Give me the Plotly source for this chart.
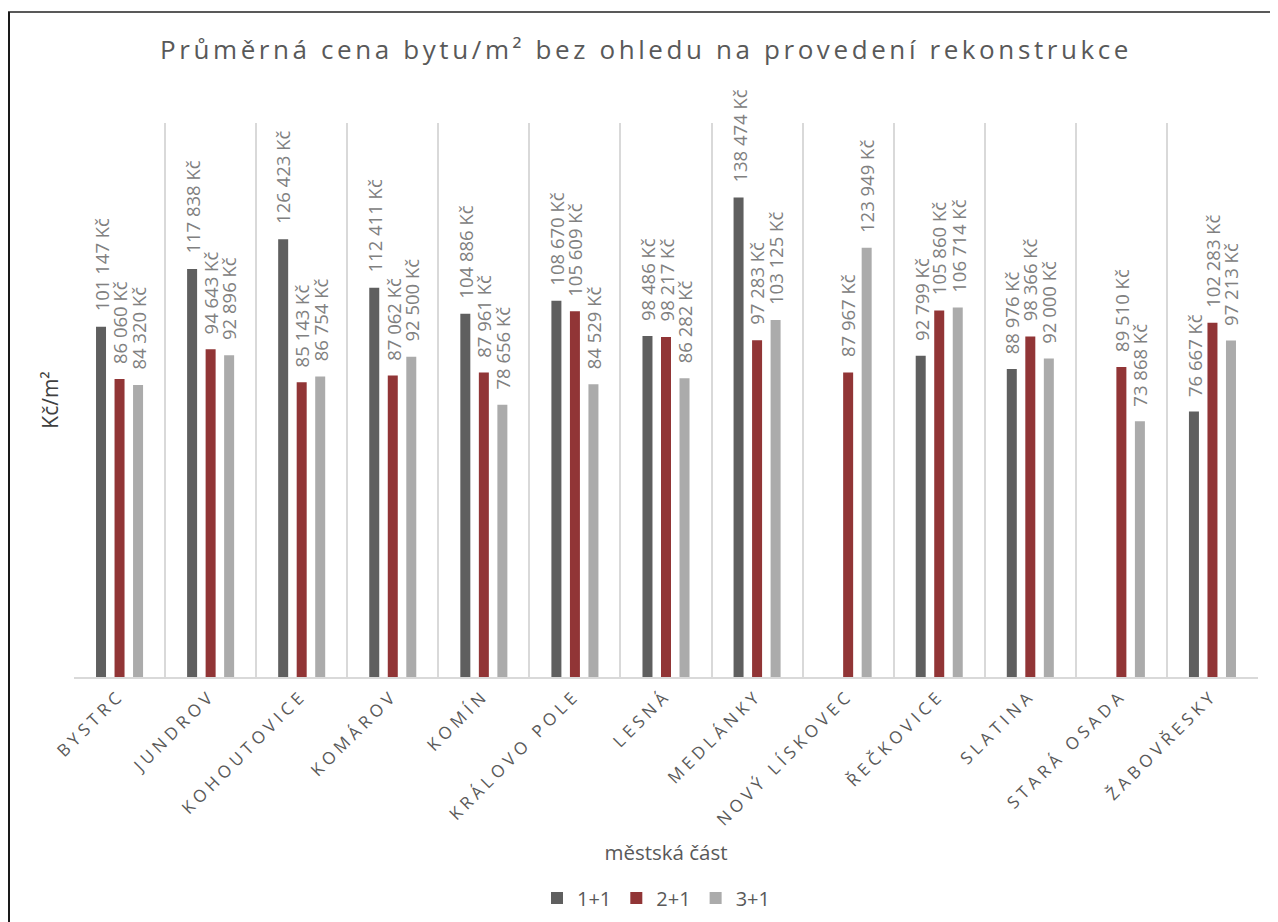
import plotly.graph_objects as go

categories = ["BYSTRC", "JUNDROV", "KOHOUTOVICE", "KOMÁROV", "KOMÍN", "KRÁLOVO POLE",
              "LESNÁ", "MEDLÁNKY", "NOVÝ LÍSKOVEC", "ŘEČKOVICE", "SLATINA",
              "STARÁ OSADA", "ŽABOVŘESKY"]
series_names = ["1+1", "2+1", "3+1"]
vals_1_1 = [101147, 117838, 126423, 112411, 104886, 108670, 98486, 138474, None, 92799, 88976, None, 76667]
vals_2_1 = [86060, 94643, 85143, 87062, 87961, 105609, 98217, 97283, 87967, 105860, 98366, 89510, 102283]
vals_3_1 = [84320, 92896, 86754, 92500, 78656, 84529, 86282, 103125, 123949, 106714, 92000, 73868, 97213]
series_values = [vals_1_1, vals_2_1, vals_3_1]
colors = ["#5f5f5f", "#913536", "#ababab"]

# page body adds an 8px offset; work in reference pixel coordinates minus 8
OFF = 8
W, H = 1278, 922
ML, MT = 74 - OFF, 123 - OFF
PW, PH = 1184, 554
MR, MB = W - ML - PW, H - MT - PH
bargap = 0.39
slot = (1 - bargap) / 3

def fmt(v):
    return "{:,}".format(v).replace(",", " ") + " Kč"

def py(px):  # reference pixel y -> paper y
    return (MT + PH - (px - OFF)) / PH

def px_(p):  # reference pixel x -> paper x
    return ((p - OFF) - ML) / PW

fig = go.Figure()
for name, vals, col in zip(series_names, series_values, colors):
    fig.add_trace(go.Bar(x=categories, y=vals, name=name, marker_color=col,
                         marker_line_width=0))

annotations = []
for k, vals in enumerate(series_values):
    for i, v in enumerate(vals):
        if v is None:
            continue
        annotations.append(dict(
            x=i + (k - 1) * slot, y=v, xref="x", yref="y", text=fmt(v),
            textangle=-90, showarrow=False, xanchor="center", yanchor="bottom",
            yshift=13, font=dict(family="Open Sans", size=18.5, color="#808080")))

ticktext = ['<span style="letter-spacing:4.4px">%s</span>' % c for c in categories]

fig.update_layout(
    width=W, height=H,
    margin=dict(l=ML, r=MR, t=MT, b=MB),
    paper_bgcolor="white", plot_bgcolor="white",
    barmode="group", bargap=bargap, bargroupgap=0.46,
    title=dict(text='<span style="letter-spacing:3.6px">Průměrná cena bytu/m² bez ohledu na provedení rekonstrukce</span>',
               x=(646 - OFF) / W, xanchor="center", xref="container",
               y=1 - (50 - OFF) / H, yanchor="middle", yref="container",
               font=dict(family="Open Sans", size=26, color="#595959")),
    xaxis=dict(type="category", categoryorder="array", categoryarray=categories,
               tickmode="array", tickvals=categories, ticktext=ticktext,
               tickson="boundaries", showgrid=True, gridcolor="#d9d9d9", gridwidth=1.5,
               showline=True, linecolor="#d9d9d9", linewidth=1.5, ticks="",
               tickangle=-45, ticklabelstandoff=0,
               tickfont=dict(family="Open Sans", size=17, color="#595959"),
               title=dict(text="městská část", standoff=16,
                          font=dict(family="Open Sans", size=20.5, color="#595959")),
               automargin=False),
    yaxis=dict(range=[0, 160000], showticklabels=False, showgrid=False, zeroline=False,
               showline=False, ticks="",
               title=dict(text="Kč/m²", standoff=8,
                          font=dict(family="Open Sans", size=21, color="#404040")),
               automargin=False),
    legend=dict(orientation="h", x=px_(656), xanchor="center",
                y=py(898), yanchor="middle",
                font=dict(family="Open Sans", size=20, color="#595959"),
                itemwidth=30, traceorder="normal"),
    annotations=annotations,
    shapes=[
        dict(type="line", xref="paper", yref="paper",
             x0=px_(8), x1=px_(W + 30),
             y0=py(12), y1=py(12),
             line=dict(color="#595959", width=2)),
        dict(type="line", xref="paper", yref="paper",
             x0=px_(9), x1=px_(9),
             y0=py(12), y1=py(H + 30),
             line=dict(color="#1a1a1a", width=2)),
    ],
)

fig.write_html("out.html")
